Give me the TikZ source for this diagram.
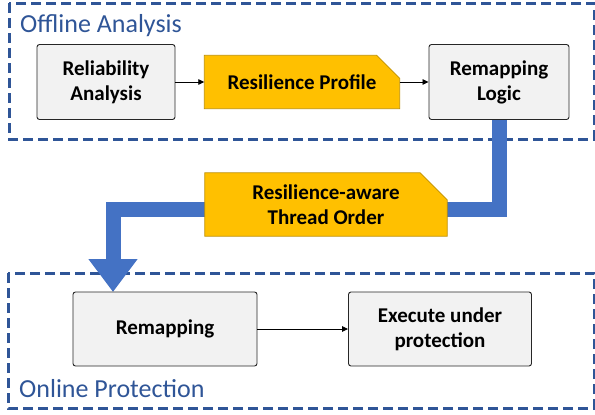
\documentclass[tikz,border=0pt]{standalone}
\usepackage{fontspec}
\setmainfont{Carlito}
\usetikzlibrary{positioning,arrows.meta,backgrounds}
\definecolor{groupblue}{HTML}{2F5597}
\definecolor{flowblue}{HTML}{4472C4}
\definecolor{gold}{HTML}{FFC000}
\definecolor{golddark}{HTML}{BF9000}
\definecolor{boxgray}{HTML}{F2F2F2}
% gold data sheet with its top right corner cut off
\newcommand\snipfill[2]{%
   \draw[draw=golddark,fill=gold,line width=0.8pt]
      (#1.south west) -- (#1.north west) -- ([xshift=-#2]#1.north east)
      -- ([yshift=-#2]#1.north east) -- (#1.south east) -- cycle;}

\begin{document}
\begin{tikzpicture}[x=1pt,y=-1pt,on grid,
   stage/.style={draw=black!85,fill=boxgray,rounded corners=2.5pt,line width=0.9pt,
      minimum width=138pt,minimum height=75pt,align=center,
      font=\bfseries\fontsize{21}{25}\selectfont},
   artifact/.style={inner sep=0pt,align=center,
      font=\bfseries\fontsize{21}{25}\selectfont},
   group/.style={draw=groupblue,line width=3pt,dash pattern=on 10pt off 5pt},
   grouplabel/.style={text=groupblue,anchor=base west,inner sep=0pt,
      font=\fontsize{26}{30}\selectfont},
   link/.style={draw=black,line width=0.8pt,-{Triangle[length=6pt,width=5.5pt]}},
   flow/.style={draw=flowblue,line width=15pt,line join=miter,
      -{Triangle[length=33pt,width=47pt]}}]
   \useasboundingbox (0,0) rectangle (595,415);

   % offline part
   \node[stage] (rel) at (106,82) {Reliability\\Analysis};
   \node[artifact,minimum width=195pt,minimum height=53pt] (profile)
         [right=196pt of rel] {Resilience Profile};
   \node[stage,minimum width=140pt] (logic) [right=197pt of profile] {Remapping\\Logic};

   % handed over
   \node[artifact,minimum width=242pt,minimum height=63pt] (order)
         at (326,204.5) {Resilience-aware\\Thread Order};

   % online part
   \node[stage,minimum width=184pt,minimum height=74pt] (remap) at (165,329) {Remapping};
   \node[stage,minimum width=183pt,minimum height=74pt] (exec) [right=275pt of remap]
         {Execute under\\protection};

   \node[grouplabel] (offline) at (20,32) {Offline Analysis};
   \node[grouplabel] (online) at (19,397) {Online Protection};

   \coordinate (elbow) at (113,209);
   \coordinate (drop) at (113,292);

   \begin{scope}[on background layer]
      \draw[group] (9,3) rectangle (594,139);
      \draw[group] (8,273) rectangle (594,408);
      \draw[flow] (logic.south) |- (elbow) -- (drop);
      \snipfill{profile}{23pt}
      \snipfill{order}{27pt}
   \end{scope}

   \path[link] (rel) edge (profile)
               (profile) edge (logic)
               (remap) edge (exec);
\end{tikzpicture}
\end{document}
